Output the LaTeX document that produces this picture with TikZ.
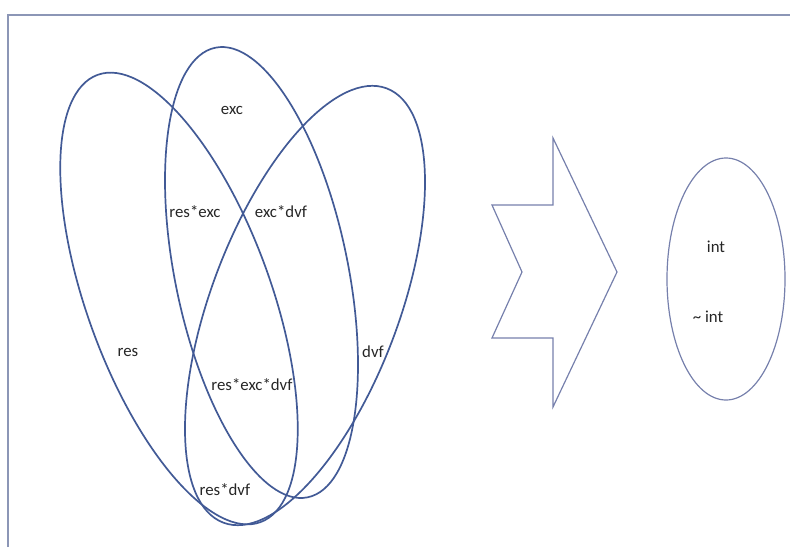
\documentclass[tikz,border=0pt]{standalone}
\usepackage{fontspec}
\setmainfont{Carlito}
\definecolor{vennc}{RGB}{66,90,150}
\definecolor{framec}{RGB}{140,150,182}
\definecolor{arrowc}{RGB}{118,128,172}
\begin{document}
\begin{tikzpicture}[x=1pt,y=-1pt,
  vennline/.style={draw=vennc,line width=1.7pt},
  lbl/.style={font=\fontsize{16.8}{19}\selectfont,text=black!85,inner sep=0pt}]
\useasboundingbox (0,0) rectangle (790,547);
% frame
\draw[framec,line width=1.6pt] (8,547) -- (8,15) -- (790,15);
% Venn ellipses
\draw[vennline,rotate around={20:(179,298.5)}] (179,298.5) ellipse [x radius=92pt, y radius=238pt];
\draw[vennline,rotate around={11.6:(261.5,272.5)}] (261.5,272.5) ellipse [x radius=86.5pt, y radius=229.5pt];
\draw[vennline,rotate around={-20.6:(305,305.5)}] (305,305.5) ellipse [x radius=94pt, y radius=232pt];
% labels
\node[lbl] (exc) at (232,110) {exc};
\node[lbl] (resexc) at (195,212) {res*exc};
\node[lbl] (excdvf) at (281,212) {exc*dvf};
\node[lbl] (res) at (128,352) {res};
\node[lbl] (dvf) at (373,352) {dvf};
\node[lbl] (all) at (252,385) {res*exc*dvf};
\node[lbl] (resdvf) at (225,490) {res*dvf};
% arrow
\draw[arrowc,line width=1.2pt,line join=miter]
  (553,138) -- (617,272) -- (553,407) -- (553,338) -- (492,338) -- (522,272) -- (492,205) -- (553,205) -- cycle;
% outcome ellipse
\draw[arrowc,line width=1.2pt] (726,279) ellipse [x radius=59pt, y radius=121pt];
\node[lbl] (int) at (716,247) {int};
\node[lbl] (nint) at (708,317) {\textasciitilde\ int};
\end{tikzpicture}
\end{document}
